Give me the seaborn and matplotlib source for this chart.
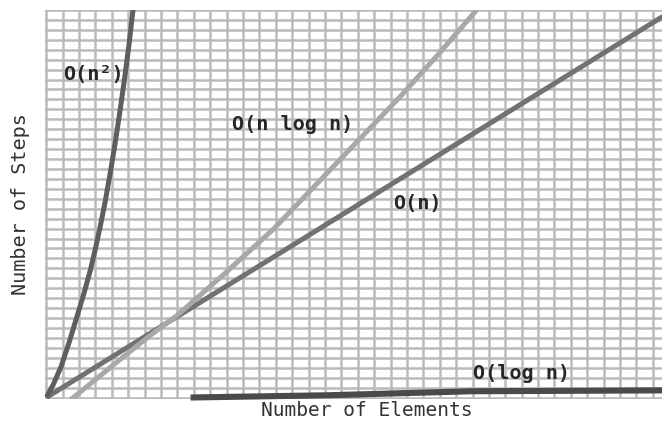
import matplotlib
matplotlib.use("Agg")
import matplotlib.pyplot as plt
from matplotlib.ticker import MultipleLocator
import pandas as pd
import seaborn as sns

# Growth curves, in grid-cell units (x: elements, y: steps)
quad_x = [0.0, 0.45, 0.9, 1.4, 1.9, 2.3, 2.7, 3.0, 3.3, 3.6, 3.9, 4.2, 4.5, 4.8, 5.05, 5.3]
quad_y = [0.0, 1.4, 3.1, 5.6, 8.3, 10.5, 12.9, 15.0, 17.3, 19.8, 22.6, 25.6, 28.9, 32.4, 35.6, 39.2]

nlogn_x = [1.5, 3.0, 4.7, 6.3, 7.97, 10.9, 13.86, 17.6, 21.6, 24.0, 26.3]
nlogn_y = [-0.2, 1.8, 4.1, 6.2, 8.25, 12.5, 16.95, 23.4, 30.3, 34.7, 39.1]

linear_x = [0.0, 12.0, 24.0, 37.7]
linear_y = [0.0, 12.24, 24.47, 38.44]

log_x = [8.8, 17.3, 25.9, 37.7]
log_y = [0.0, 0.23, 0.63, 0.72]

labels = ["O(n\u00b2)", "O(n log n)", "O(n)", "O(log n)"]
x_title = "Number of Elements"
y_title = "Number of Steps"

sns.set_theme(style="white")
plt.rcParams["font.family"] = ["DejaVu Sans Mono", "DejaVu Sans"]

fig = plt.figure(figsize=(6.62, 4.21), dpi=100)
ax = fig.add_axes([45 / 662, 22 / 421, 617 / 662, 389 / 421])

ax.set_xlim(-0.08, 37.56)
ax.set_ylim(-0.15, 39.0)

# graph-paper grid
ax.xaxis.set_major_locator(MultipleLocator(1))
ax.yaxis.set_major_locator(MultipleLocator(1))
ax.grid(True, color="#bababa", linewidth=1.8)
ax.set_axisbelow(True)
ax.tick_params(length=0, labelbottom=False, labelleft=False)
for s in ax.spines.values():
    s.set_visible(False)

def curve(xs, ys, color, lw, clip=True):
    df = pd.DataFrame({"x": xs, "y": ys})
    sns.lineplot(data=df, x="x", y="y", ax=ax, sort=False, estimator=None,
                 color=color, linewidth=lw, zorder=3)
    line = ax.lines[-1]
    line.set_solid_capstyle("butt")
    line.set_solid_joinstyle("round")
    line.set_clip_on(clip)

curve(linear_x, linear_y, "#727272", 3.6)
curve(nlogn_x, nlogn_y, "#a8a8a8", 3.6)
curve(quad_x, quad_y, "#5e5e5e", 3.6)
curve(log_x, log_y, "#4a4a4a", 4.4, clip=False)

ax.set_xlabel("")
ax.set_ylabel("")

lab_kw = dict(fontsize=14.5, fontweight="bold", color="#262626",
              ha="left", va="center", zorder=4)
ax.text(1.04, 32.5, labels[0], **lab_kw)
ax.text(11.34, 27.5, labels[1], **lab_kw)
ax.text(21.16, 19.56, labels[2], **lab_kw)
ax.text(26.05, 2.46, labels[3], **lab_kw)

fig.text(367 / 662, 1 - 411 / 421, x_title, fontsize=14, color="#333333",
         ha="center", va="center")
fig.text(21 / 662, 1 - 204 / 421, y_title, fontsize=14.5, color="#333333",
         ha="center", va="center", rotation=90)

fig.savefig("out.png", dpi=100)
